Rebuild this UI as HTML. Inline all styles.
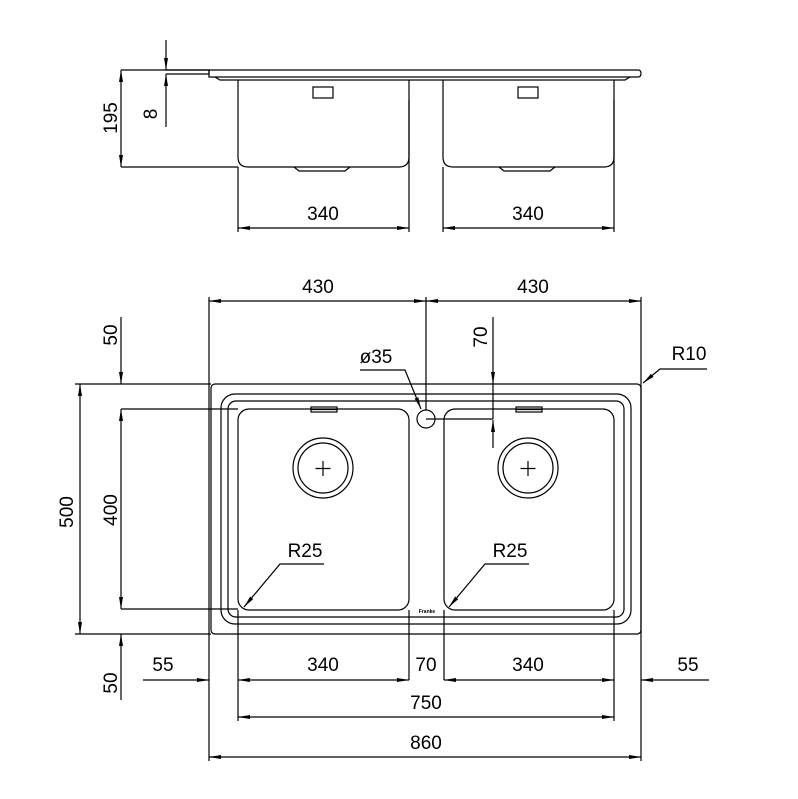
<!DOCTYPE html>
<html><head><meta charset="utf-8"><style>
html,body{margin:0;padding:0;background:#fff;}
svg{display:block;}
text{font-family:"Liberation Sans",sans-serif;font-size:19px;fill:#000;text-anchor:middle;}
</style></head><body>
<svg width="798" height="799" viewBox="0 0 798 799" xmlns="http://www.w3.org/2000/svg">
<defs>
<marker id="a" viewBox="0 0 12 6" refX="12" refY="3" markerWidth="12" markerHeight="6" orient="auto-start-reverse" markerUnits="userSpaceOnUse">
<path d="M0,1 L12,3 L0,5 z" fill="#000"/></marker>
</defs>
<g fill="none" stroke="#000" stroke-width="1.2">
<!-- TOP VIEW -->
<line x1="121" y1="70" x2="209" y2="70"/>
<path d="M166,70 H209 V74 H166"/>
<path d="M209,70 H638 Q641,70 641,73.5 Q641,77 638,77 H209 Z"/>
<path d="M215,77 L220,80 H625 L630,77"/>
<path d="M238,80 V157 Q238,167 248,167 H399 Q409,167 409,157 V80"/>
<path d="M443,80 V157 Q443,167 453,167 H604 Q614,167 614,157 V80"/>
<rect x="313" y="87" width="20" height="11"/>
<rect x="518" y="87" width="20" height="11"/>
<path d="M294,167 L299,171 H345 L350,167"/>
<path d="M499,167 L504,171 H550 L555,167"/>
<line x1="121" y1="167" x2="238" y2="167"/>
<line x1="121" y1="70" x2="121" y2="167" marker-start="url(#a)" marker-end="url(#a)"/>
<line x1="166" y1="40" x2="166" y2="70" marker-end="url(#a)"/>
<line x1="166" y1="127" x2="166" y2="74" marker-end="url(#a)"/>
<line x1="238" y1="167" x2="238" y2="232"/>
<line x1="409" y1="100" x2="409" y2="232"/>
<line x1="443" y1="167" x2="443" y2="232"/>
<line x1="614" y1="100" x2="614" y2="232"/>
<line x1="238" y1="228" x2="409" y2="228" marker-start="url(#a)" marker-end="url(#a)"/>
<line x1="443" y1="228" x2="614" y2="228" marker-start="url(#a)" marker-end="url(#a)"/>

<!-- PLAN VIEW -->
<rect x="211" y="384" width="430" height="250" rx="4"/>
<rect x="221" y="394" width="410" height="230" rx="14"/>
<rect x="228" y="401" width="396" height="216" rx="8"/>
<rect x="238" y="409" width="171" height="201" rx="11"/>
<rect x="444" y="409" width="170" height="201" rx="11"/>
<circle cx="323" cy="468" r="30"/><circle cx="323" cy="468" r="25"/>
<circle cx="528" cy="468" r="30"/><circle cx="528" cy="468" r="25"/>
<path d="M323,461 V476 M315.5,468.5 H330.5"/>
<path d="M528,461 V476 M520.5,468.5 H535.5"/>
<circle cx="426" cy="419" r="9"/>
<rect x="311" y="407" width="26" height="5"/><path d="M311,409.5 H337"/>
<rect x="516" y="407" width="26" height="5"/><path d="M516,409.5 H542"/>

<!-- dims -->
<line x1="209" y1="297" x2="209" y2="761"/>
<line x1="641" y1="297" x2="641" y2="761"/>
<line x1="426" y1="297" x2="426" y2="410"/>
<line x1="209" y1="301" x2="426" y2="301" marker-start="url(#a)" marker-end="url(#a)"/>
<line x1="426" y1="301" x2="641" y2="301" marker-start="url(#a)" marker-end="url(#a)"/>
<line x1="75" y1="384" x2="211" y2="384"/>
<line x1="75" y1="634" x2="211" y2="634"/>
<line x1="121" y1="409" x2="238" y2="409"/>
<line x1="121" y1="609" x2="238" y2="609"/>
<line x1="121" y1="317" x2="121" y2="384" marker-end="url(#a)"/>
<line x1="121" y1="409" x2="121" y2="609" marker-start="url(#a)" marker-end="url(#a)"/>
<line x1="80" y1="384" x2="80" y2="634" marker-start="url(#a)" marker-end="url(#a)"/>
<line x1="121" y1="700" x2="121" y2="634" marker-end="url(#a)"/>
<line x1="493" y1="317" x2="493" y2="384" marker-end="url(#a)"/>
<line x1="493" y1="384" x2="493" y2="419"/>
<line x1="426" y1="419" x2="493" y2="419"/>
<line x1="493" y1="448" x2="493" y2="420" marker-end="url(#a)"/>
<path d="M360,370 H405 L421,409" marker-end="url(#a)"/>
<path d="M707,369 H660 L643,383" marker-end="url(#a)"/>
<path d="M324,564 H280 L244,607" marker-end="url(#a)"/>
<path d="M529,564 H485 L449,607" marker-end="url(#a)"/>
<line x1="238" y1="610" x2="238" y2="721"/>
<line x1="614" y1="610" x2="614" y2="721"/>
<line x1="409" y1="610" x2="409" y2="680"/>
<line x1="444" y1="610" x2="444" y2="680"/>
<line x1="143" y1="680" x2="209" y2="680" marker-end="url(#a)"/>
<line x1="709" y1="680" x2="641" y2="680" marker-end="url(#a)"/>
<line x1="238" y1="680" x2="409" y2="680" marker-start="url(#a)" marker-end="url(#a)"/>
<line x1="444" y1="680" x2="614" y2="680" marker-start="url(#a)" marker-end="url(#a)"/>
<line x1="238" y1="717" x2="614" y2="717" marker-start="url(#a)" marker-end="url(#a)"/>
<line x1="209" y1="757" x2="641" y2="757" marker-start="url(#a)" marker-end="url(#a)"/>
</g>
<text x="0" y="0" transform="translate(117,118) rotate(-90)">195</text>
<text x="0" y="0" transform="translate(157,114) rotate(-90)">8</text>
<text x="323" y="220">340</text>
<text x="528" y="220">340</text>
<text x="318" y="293">430</text>
<text x="533" y="293">430</text>
<text x="0" y="0" transform="translate(117,335) rotate(-90)">50</text>
<text x="0" y="0" transform="translate(487,337) rotate(-90)">70</text>
<text x="376" y="363">ø35</text>
<text x="689" y="360">R10</text>
<text x="0" y="0" transform="translate(117,510) rotate(-90)">400</text>
<text x="0" y="0" transform="translate(73,512) rotate(-90)">500</text>
<text x="305" y="557">R25</text>
<text x="510" y="557">R25</text>
<text x="0" y="0" transform="translate(117,683) rotate(-90)">50</text>
<text x="163" y="671">55</text>
<text x="323" y="671">340</text>
<text x="426" y="671">70</text>
<text x="528" y="671">340</text>
<text x="688" y="671">55</text>
<text x="426" y="709">750</text>
<text x="426" y="749">860</text>
<text x="427" y="613" style="font-size:5px;font-weight:bold">Franke</text>
</svg>
</body></html>
